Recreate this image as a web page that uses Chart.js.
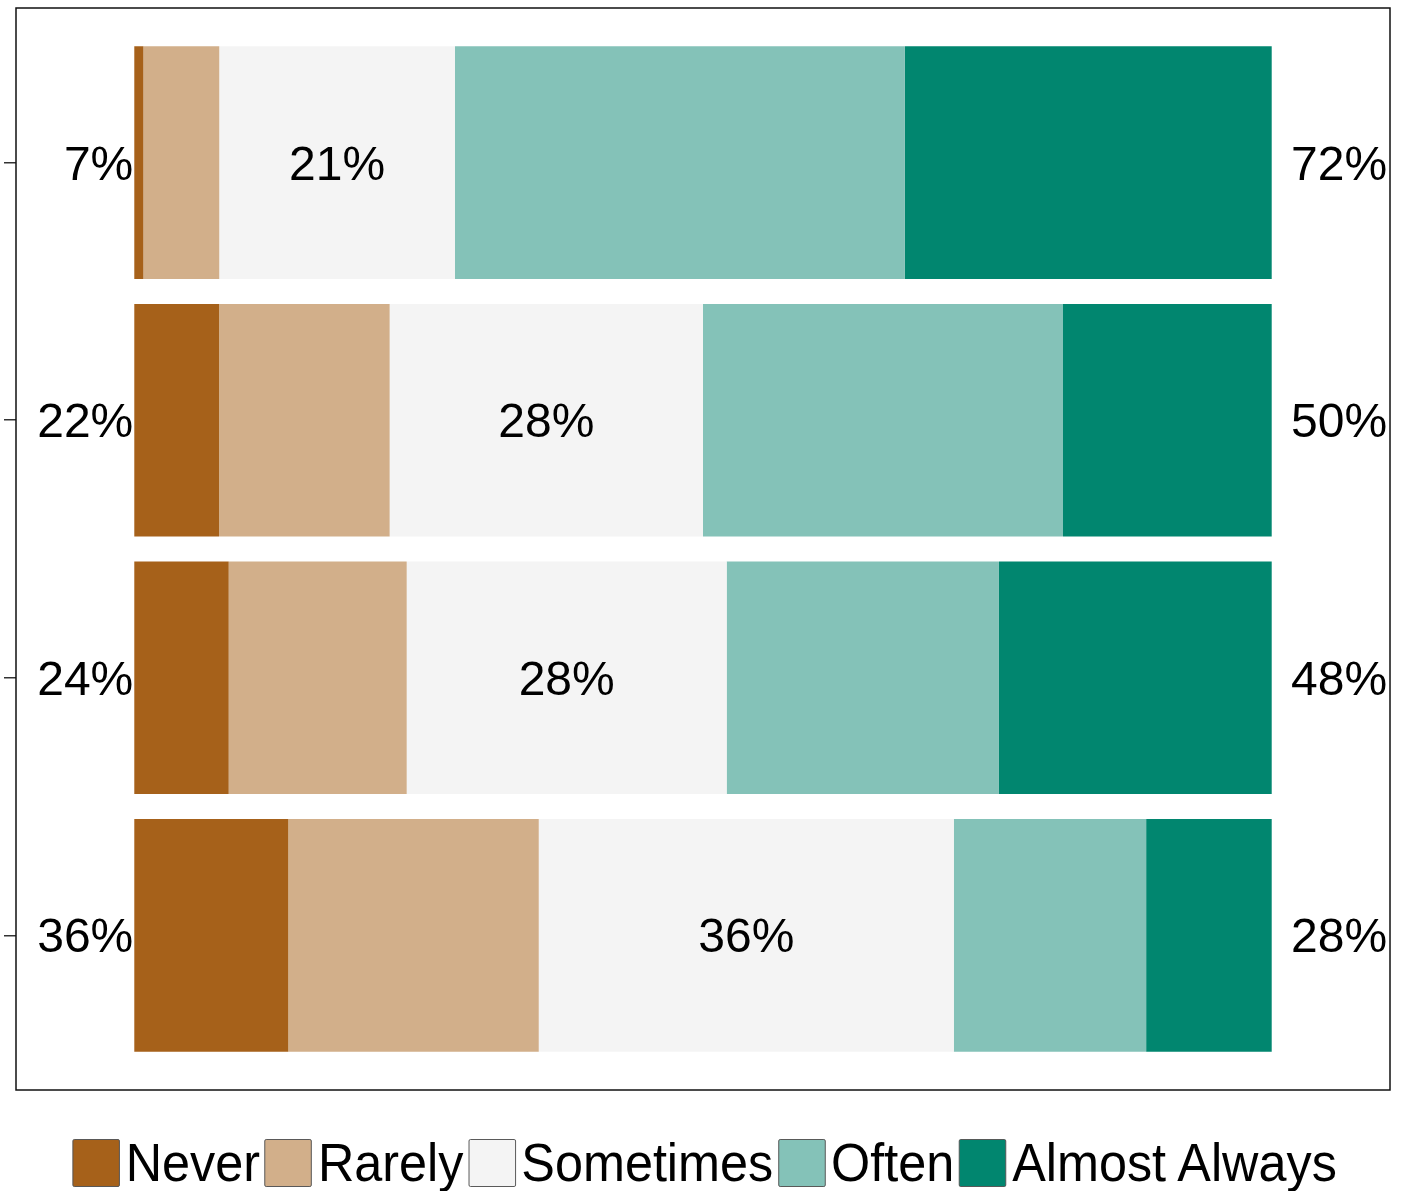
<!DOCTYPE html>
<html>
<head>
<meta charset="utf-8">
<script src="https://cdn.jsdelivr.net/npm/chart.js@4.4.0/dist/chart.umd.min.js"></script>
<style>
  body { margin: 0; background: #fff; }
  #wrap { position: relative; width: 1414px; height: 1191px; }
  #legend {
    position: absolute; left: 0; top: 1132px; width: 1414px;
    display: flex; justify-content: center; align-items: center;
    font-family: "Liberation Sans", Arial, sans-serif; font-size: 53px; color: #000;
    transform: scaleX(0.95); transform-origin: 707px 0;
  }
  .item { display: flex; align-items: center; margin-right: 5px; }
  .box { width: 50px; height: 48px; border: 1px solid #555; border-radius: 2px; margin-right: 6px; box-sizing: border-box; }
</style>
</head>
<body>
<div id="wrap">
  <canvas id="grafico" width="1414" height="1100"></canvas>
  <div id="legend"></div>
</div>
<script>
// filas (sin etiqueta visible en el eje)
const filas = [0, 1, 2, 3];

// niveles de respuesta y sus colores
const niveles = ["Never", "Rarely", "Sometimes", "Often", "Almost Always"];
const colores = ["#A6611A", "#D2AF8A", "#F4F4F4", "#84C2B8", "#01866F"];

// porcentajes por nivel, una entrada por fila
const never     = [0.80, 7.45, 8.30, 13.54];
const rarely    = [6.67, 15.00, 15.65, 22.02];
const sometimes = [20.72, 27.55, 28.13, 36.49];
const often     = [39.56, 31.65, 23.94, 16.91];
const almost    = [32.25, 18.35, 23.98, 11.04];

const series = [never, rarely, sometimes, often, almost];

const fuente = '48px "Liberation Sans", Arial, sans-serif';

// etiquetas de porcentaje: bajo a la izquierda, neutro al centro, alto a la derecha
const etiquetasPlugin = {
  id: "etiquetas",
  afterDatasetsDraw(chart) {
    const { ctx, scales: { x, y } } = chart;
    ctx.save();
    ctx.font = fuente;
    ctx.fillStyle = "#000";
    ctx.textBaseline = "alphabetic";
    filas.forEach((f, i) => {
      const yc = y.getPixelForValue(f) + 17;
      const bajo = never[i] + rarely[i];
      const alto = often[i] + almost[i];
      const medio = sometimes[i];

      ctx.textAlign = "right";
      ctx.fillText(Math.round(bajo) + "%", x.getPixelForValue(0) - 1, yc);

      ctx.textAlign = "center";
      ctx.fillText(Math.round(medio) + "%", x.getPixelForValue(bajo + medio / 2), yc);

      ctx.textAlign = "left";
      ctx.fillText(Math.round(alto) + "%", x.getPixelForValue(101.7), yc);
    });
    ctx.restore();
  }
};

// marco del panel
const marcoPlugin = {
  id: "marco",
  afterDraw(chart) {
    const { ctx, chartArea: a } = chart;
    ctx.save();
    ctx.strokeStyle = "#111";
    ctx.lineWidth = 1.5;
    ctx.strokeRect(a.left, a.top, a.right - a.left, a.bottom - a.top);
    ctx.restore();
  }
};

new Chart(document.getElementById("grafico"), {
  type: "bar",
  data: {
    datasets: niveles.map((nivel, k) => ({
      label: nivel,
      data: filas.map((f, i) => ({ x: series[k][i], y: f })),
      backgroundColor: colores[k],
      borderWidth: 0,
      categoryPercentage: 1,
      barPercentage: 0.903,
    })),
  },
  options: {
    indexAxis: "y",
    responsive: false,
    animation: false,
    layout: { padding: { left: 4, right: 24, top: 8, bottom: 10 } },
    plugins: { legend: { display: false }, tooltip: { enabled: false } },
    scales: {
      x: { type: "linear", stacked: true, min: -10.4, max: 110.4, display: false },
      y: {
        type: "linear",
        stacked: true,
        reverse: true,
        offset: false,
        min: -0.6,
        max: 3.6,
        afterBuildTicks: (s) => { s.ticks = filas.map((v) => ({ value: v })); },
        ticks: { display: false },
        grid: { offset: false, drawOnChartArea: false, drawTicks: true, tickLength: 12, color: "#333", lineWidth: 1.5 },
        border: { display: false },
      },
    },
  },
  plugins: [etiquetasPlugin, marcoPlugin],
});

// leyenda en HTML
const leyenda = document.getElementById("legend");
niveles.forEach((nivel, k) => {
  const item = document.createElement("div");
  item.className = "item";
  const caja = document.createElement("div");
  caja.className = "box";
  caja.style.background = colores[k];
  const texto = document.createElement("span");
  texto.textContent = nivel;
  item.appendChild(caja);
  item.appendChild(texto);
  leyenda.appendChild(item);
});
</script>
</body>
</html>
